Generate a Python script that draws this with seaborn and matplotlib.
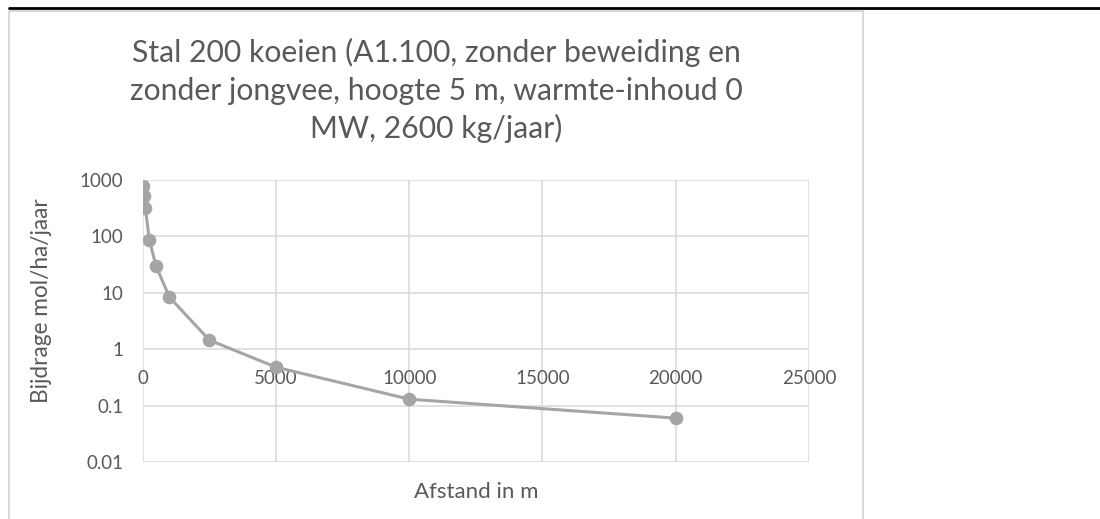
import matplotlib
matplotlib.use("Agg")
import matplotlib.pyplot as plt
from matplotlib.lines import Line2D
from matplotlib.patches import Rectangle
import seaborn as sns
import pandas as pd

# Data
afstand = [20, 50, 100, 250, 500, 1000, 2500, 5000, 10000, 20000]
bijdrage = [780, 520, 320, 86, 30, 8.4, 1.45, 0.48, 0.13, 0.06]
x_ticks = [0, 5000, 10000, 15000, 20000, 25000]
y_ticks = [0.01, 0.1, 1, 10, 100, 1000]
y_ticklabels = ["0.01", "0.1", "1", "10", "100", "1000"]
title_lines = ["Stal 200 koeien (A1.100, zonder beweiding en",
               "zonder jongvee, hoogte 5 m, warmte-inhoud 0",
               "MW, 2600 kg/jaar)"]

df = pd.DataFrame({"afstand": afstand, "bijdrage": bijdrage})

sns.set_style("white")
plt.rcParams["font.family"] = ["Lato", "DejaVu Sans"]

W, H = 1100, 519
fig = plt.figure(figsize=(W / 100, H / 100), dpi=100)
ax = fig.add_axes([142.7 / W, 1 - 462 / H, 666.3 / W, 282 / H])

grey = "#A5A5A5"
text_col = "#595959"
grid_col = "#D9D9D9"

sns.lineplot(data=df, x="afstand", y="bijdrage", ax=ax, color=grey, linewidth=2.2,
             marker="o", markersize=9.8, markeredgewidth=0, zorder=3)

ax.set_yscale("log")
ax.set_xlim(0, 25000)
ax.set_ylim(0.01, 1000)
ax.set_xticks(x_ticks)
ax.set_xticklabels([str(t) for t in x_ticks])
ax.set_yticks(y_ticks)
ax.set_yticklabels(y_ticklabels)
ax.minorticks_off()
ax.grid(True, color=grid_col, linewidth=1.1)
ax.set_axisbelow(True)

for side in ["top", "right", "left", "bottom"]:
    ax.spines[side].set_visible(False)
# x axis crosses at y = 1, like the Excel original
ax.spines["bottom"].set_position(("data", 1))
ax.tick_params(axis="x", length=0, pad=15, labelsize=13.5, labelcolor=text_col)
ax.tick_params(axis="y", length=0, pad=14, labelsize=13.5, labelcolor=text_col)

ax.set_xlabel("Afstand in m", fontsize=16, color=text_col)
ax.set_ylabel("Bijdrage mol/ha/jaar", fontsize=16.3, color=text_col)
ax.xaxis.set_label_coords(0.5, -0.07)
ax.yaxis.set_label_coords(-0.136, 0.574)

# title, one line per baseline
for i, line in enumerate(title_lines):
    fig.text(436 / W, 1 - (61.7 + 38.3 * i) / H, line, ha="center", va="baseline",
             fontsize=21.7, color=text_col)

# chart frame and top rule
fig.add_artist(Rectangle((9 / W, -0.05), 854 / W, 1.05 - 11 / H, transform=fig.transFigure,
                         fill=False, edgecolor=grid_col, linewidth=1.5))
fig.add_artist(Line2D([9 / W, 1], [1 - 7.5 / H, 1 - 7.5 / H], transform=fig.transFigure,
                      color="black", linewidth=2))

fig.savefig("out.png", dpi=100)
